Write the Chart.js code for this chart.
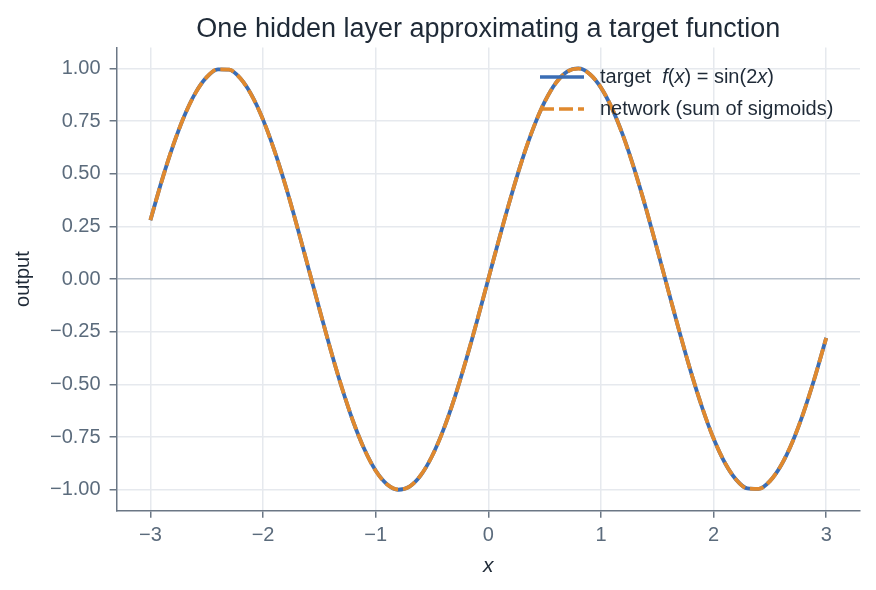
<!DOCTYPE html>
<html>
<head>
<meta charset="utf-8">
<script src="https://cdn.jsdelivr.net/npm/chart.js@4"></script>
<style>
  html, body { margin: 0; padding: 0; background: #fff; }
  #wrap { width: 876px; height: 590px; }
</style>
</head>
<body>
<div id="wrap"><canvas id="fitChart"></canvas></div>
<script>
// x grid, step 0.1 from -3 to 3
const xs = [];
for (let i = -30; i <= 30; i++) xs.push(i / 10);

// target f(x) = sin(2x), read at x = 0 .. 3 (odd function, mirrored below)
const targetPos = [0, 0.199, 0.389, 0.565, 0.717, 0.841, 0.932, 0.985, 1.0, 0.974,
  0.909, 0.808, 0.676, 0.516, 0.335, 0.141, -0.058, -0.256, -0.443, -0.612,
  -0.757, -0.872, -0.952, -0.994, -0.996, -0.959, -0.884, -0.773, -0.631, -0.465, -0.279];
const targetVals = targetPos.slice(1).reverse().map(v => -v).concat(targetPos);

// network output, sits on top of the target almost exactly
const networkPos = [0, 0.198, 0.389, 0.565, 0.718, 0.841, 0.931, 0.985, 0.999, 0.974,
  0.910, 0.809, 0.675, 0.515, 0.336, 0.141, -0.059, -0.255, -0.443, -0.611,
  -0.757, -0.871, -0.952, -0.994, -0.996, -0.959, -0.883, -0.773, -0.632, -0.464, -0.280];
const networkVals = networkPos.slice(1).reverse().map(v => -v).concat(networkPos);

const xTicks = [-3, -2, -1, 0, 1, 2, 3];
const yTicks = [-1, -0.75, -0.5, -0.25, 0, 0.25, 0.5, 0.75, 1];

const blue = "#3a6db5";
const orange = "#e0892e";
const axisGray = "#6b7785";
const tickText = "#5b6b7c";
const fontFam = "Arial, 'Liberation Sans', sans-serif";

const minus = s => s.replace("-", "\u2212");

// legend with italic math bits, drawn on the canvas
const mathLegend = {
  id: "mathLegend",
  afterDraw(chart) {
    const c = chart.ctx;
    const x0 = 540, lineLen = 44, tx = 600;
    const rows = [
      { y: 77, color: blue, dash: [], parts: [["target  ", false], ["f", true], ["(", false], ["x", true], [") = sin(2", false], ["x", true], [")", false]] },
      { y: 109, color: orange, dash: [14, 5], parts: [["network (sum of sigmoids)", false]] }
    ];
    c.save();
    rows.forEach(r => {
      c.beginPath();
      c.setLineDash(r.dash);
      c.strokeStyle = r.color;
      c.lineWidth = 3.5;
      c.moveTo(x0, r.y);
      c.lineTo(x0 + lineLen, r.y);
      c.stroke();
      c.setLineDash([]);
      c.fillStyle = "#1f2a37";
      c.textBaseline = "middle";
      let x = tx;
      r.parts.forEach(([t, it]) => {
        c.font = (it ? "italic " : "") + "20px " + fontFam;
        c.fillText(t, x, r.y);
        x += c.measureText(t).width;
      });
    });
    c.restore();
  }
};

const ctx = document.getElementById("fitChart").getContext("2d");

new Chart(ctx, {
  type: "line",
  data: {
    datasets: [
      {
        label: "target  f(x) = sin(2x)",
        data: xs.map((x, i) => ({ x: x, y: targetVals[i] })),
        borderColor: blue,
        borderWidth: 3.8,
        pointRadius: 0,
        cubicInterpolationMode: "monotone",
        order: 2,
      },
      {
        label: "network (sum of sigmoids)",
        data: xs.map((x, i) => ({ x: x, y: networkVals[i] })),
        borderColor: orange,
        borderWidth: 3.8,
        borderDash: [14, 5],
        pointRadius: 0,
        cubicInterpolationMode: "monotone",
        order: 1,
      },
    ],
  },
  options: {
    responsive: true,
    maintainAspectRatio: false,
    animation: false,
    layout: { padding: { left: 7, right: 16, top: 0, bottom: 5 } },
    scales: {
      x: {
        type: "linear",
        min: -3.3,
        max: 3.3,
        afterBuildTicks: s => { s.ticks = xTicks.map(v => ({ value: v })); },
        grid: { color: "#e6e9ee", lineWidth: 1.5, tickColor: axisGray, tickLength: 7 },
        border: { color: axisGray, width: 1.5 },
        ticks: {
          color: tickText,
          font: { size: 20, family: fontFam },
          padding: 6,
          maxRotation: 0,
          callback: v => minus(String(v)),
        },
        title: {
          display: true,
          text: "x",
          color: "#1f2a37",
          font: { size: 21, family: fontFam, style: "italic" },
          padding: { top: 0, bottom: 6 },
        },
      },
      y: {
        min: -1.1,
        max: 1.1,
        afterBuildTicks: s => { s.ticks = yTicks.map(v => ({ value: v })); },
        grid: {
          color: c => (c.tick && c.tick.value === 0 ? "#b8c1cc" : "#e6e9ee"),
          lineWidth: 1.5,
          tickColor: axisGray,
          tickLength: 7,
        },
        border: { color: axisGray, width: 1.5 },
        ticks: {
          color: tickText,
          font: { size: 20, family: fontFam },
          padding: 9,
          callback: v => minus(v.toFixed(2)),
        },
        title: {
          display: true,
          text: "output",
          color: "#1f2a37",
          font: { size: 20, family: fontFam },
          padding: { bottom: 6 },
        },
      },
    },
    plugins: {
      legend: { display: false },
      tooltip: { enabled: false },
      title: {
        display: true,
        fullSize: false,
        text: "One hidden layer approximating a target function",
        color: "#1f2a37",
        font: { size: 27, family: fontFam, weight: "normal" },
        padding: { top: 13, bottom: 2 },
      },
    },
  },
  plugins: [mathLegend],
});
</script>
</body>
</html>
